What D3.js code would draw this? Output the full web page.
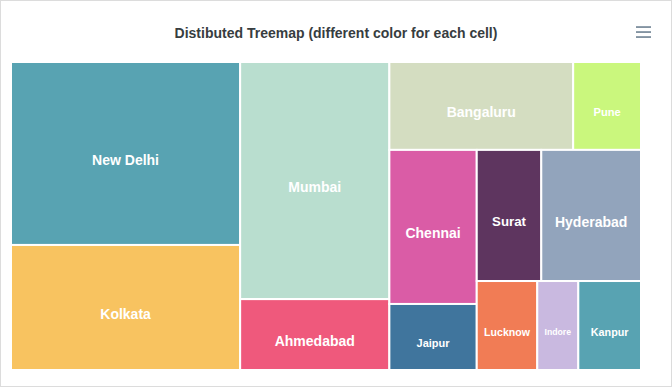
<!DOCTYPE html>
<html lang="en">
<head>
    <meta charset="UTF-8">
    <title>Distibuted Treemap</title>
    <script src="https://cdn.jsdelivr.net/npm/d3@7"></script>
    <style>
        body {
            margin: 0;
            background: #fff;
        }

        #box {
            position: absolute;
            left: 0;
            top: 0;
            width: 670px;
            height: 385px;
            border: 1px solid #dcdcdc;
        }

        svg {
            position: absolute;
            left: 0;
            top: 0;
        }

        .label {
            font-family: "Liberation Sans", Arial, sans-serif;
            font-weight: bold;
            fill: #fff;
        }
    </style>
</head>

<body>
    <div id="box"></div>
    <svg width="672" height="387"></svg>

    <script>
        // data
        const cities = ["New Delhi", "Kolkata", "Mumbai", "Ahmedabad", "Bangaluru", "Pune", "Chennai",
            "Jaipur", "Surat", "Hyderabad", "Lucknow", "Indore", "Kanpur"];
        const values = [218, 149, 184, 55, 84, 31, 70, 30, 44, 68, 28, 19, 29];
        const palette = ["#3B93A5", "#F7B844", "#ADD8C7", "#EC3C65", "#CDD7B6", "#C1F666", "#D43F97",
            "#1E5D8C", "#421243", "#7F94B0", "#EF6537", "#C0ADDB"];

        const svg = d3.select("svg");

        // plot area
        const x0 = 11, y0 = 62, x1 = 641, y1 = 370;

        svg.append("text")
            .attr("x", 336)
            .attr("y", 38)
            .attr("text-anchor", "middle")
            .style("font-family", "'Liberation Sans', Arial, sans-serif")
            .style("font-weight", "bold")
            .style("font-size", "14px")
            .style("fill", "#373d3f")
            .text("Distibuted Treemap (different color for each cell)");

        // menu icon
        const menu = svg.append("g").attr("transform", "translate(636,27)");
        [0, 5, 10].forEach(function (d) {
            menu.append("rect")
                .attr("x", 0).attr("y", d - 0.75)
                .attr("width", 15).attr("height", 1.6)
                .attr("fill", "#6E8192");
        });

        const root = d3.hierarchy({
                children: cities.map(function (c, i) { return { name: c, value: values[i] }; })
            })
            .sum(function (d) { return d.value || 0; });

        d3.treemap()
            .tile(d3.treemapSquarify.ratio(1))
            .size([x1 - x0, y1 - y0])
            .round(false)(root);

        const leaves = root.leaves();

        // font size scales with the cell, capped at 14px
        const avgLen = d3.mean(cities, function (c) { return c.length; });
        function fontSize(d) {
            const a = Math.sqrt((d.x1 - d.x0) * (d.y1 - d.y0));
            return Math.min(a / avgLen, 14);
        }

        const cell = svg.append("g")
            .attr("transform", "translate(" + x0 + "," + y0 + ")")
            .selectAll("g")
            .data(leaves)
            .enter()
            .append("g");

        cell.append("rect")
            .attr("x", function (d) { return d.x0; })
            .attr("y", function (d) { return d.y0; })
            .attr("width", function (d) { return d.x1 - d.x0; })
            .attr("height", function (d) { return d.y1 - d.y0; })
            .attr("fill", function (d, i) { return palette[i % palette.length]; })
            .attr("fill-opacity", 0.85)
            .attr("stroke", "#fff")
            .attr("stroke-width", 2);

        cell.append("text")
            .attr("class", "label")
            .attr("x", function (d) { return (d.x0 + d.x1) / 2; })
            .attr("y", function (d) { return (d.y0 + d.y1) / 2 + 6.5; })
            .attr("text-anchor", "middle")
            .attr("dominant-baseline", "central")
            .style("font-size", function (d) { return fontSize(d) + "px"; })
            .text(function (d) { return d.data.name; });
    </script>
</body>

</html>
